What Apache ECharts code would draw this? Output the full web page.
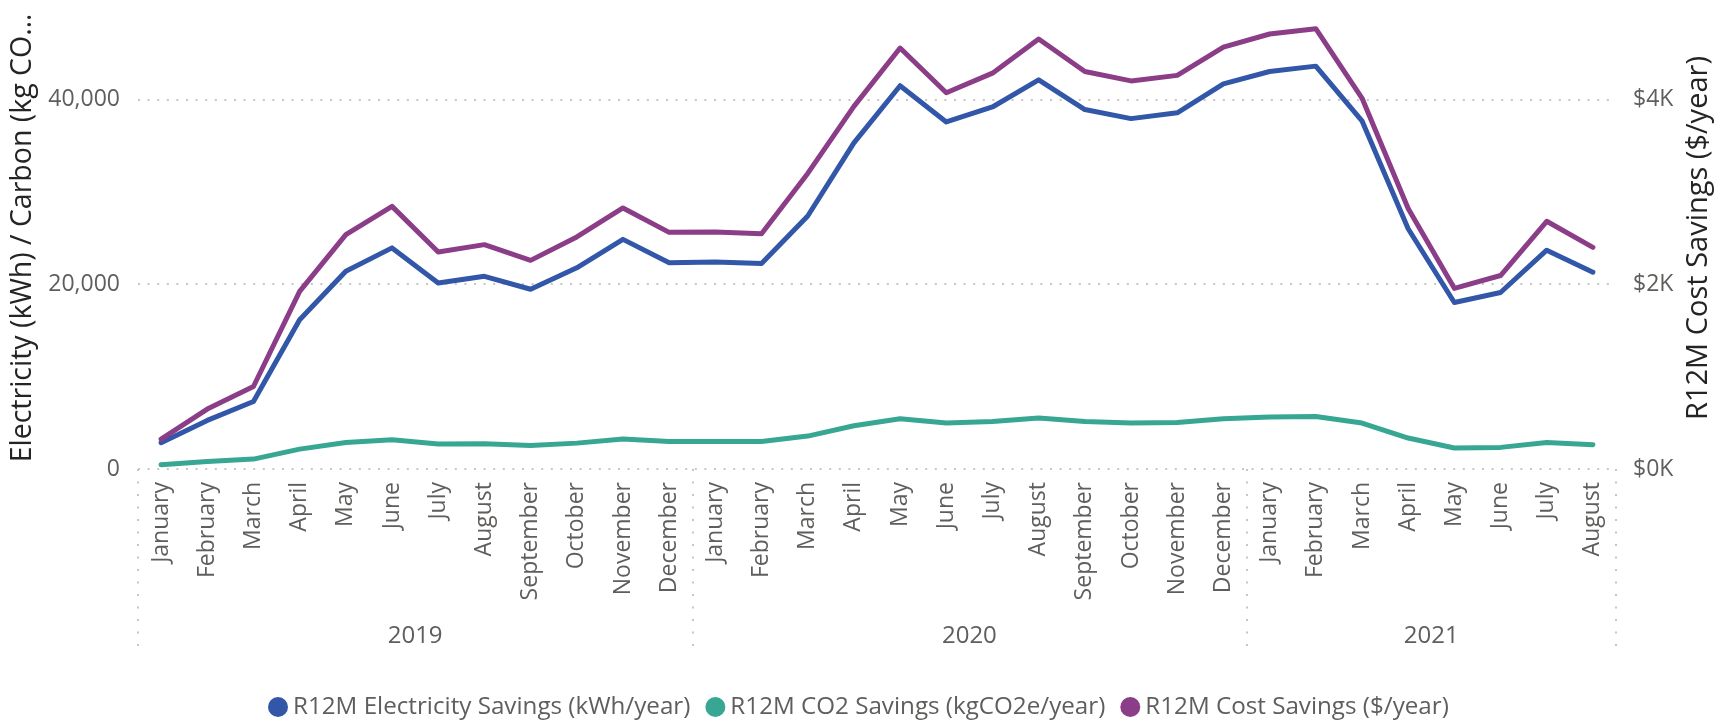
<!DOCTYPE html>
<html>
<head>
    <meta charset="utf-8">
    <title>R12M Savings</title>
    <script src="https://cdn.jsdelivr.net/npm/echarts@6/dist/echarts.min.js"></script>
    <style>
        body { margin: 0; background: #fff; }
    </style>
</head>
<body>
    <div id="main" style="width: 1731px;height:723px;"></div>
    <script type="text/javascript">
        // months on the x axis, grouped by year
        var months = ['January', 'February', 'March', 'April', 'May', 'June', 'July', 'August',
            'September', 'October', 'November', 'December',
            'January', 'February', 'March', 'April', 'May', 'June', 'July', 'August',
            'September', 'October', 'November', 'December',
            'January', 'February', 'March', 'April', 'May', 'June', 'July', 'August'];
        var years = ['2019', '2020', '2021'];
        var monthsInYear = [12, 12, 8];

        // R12M savings
        var electricity = [2840, 5260, 7310, 16160, 21400, 23930, 20130, 20850, 19450, 21770, 24850, 22330,
            22400, 22250, 27380, 35300, 41480, 37560, 39180, 42110, 38900, 37920, 38550, 41680,
            43020, 43600, 37680, 26000, 18020, 19100, 23680, 21300];
        var co2 = [460, 810, 1070, 2150, 2870, 3160, 2700, 2730, 2550, 2800, 3240, 2980,
            2980, 2980, 3560, 4680, 5440, 4970, 5140, 5510, 5140, 4970, 5040, 5440,
            5620, 5690, 4970, 3350, 2280, 2340, 2870, 2630];
        var cost = [324, 649, 893, 1922, 2536, 2842, 2349, 2428, 2258, 2511, 2825, 2561,
            2565, 2547, 3199, 3925, 4556, 4072, 4284, 4654, 4302, 4200, 4260, 4565,
            4708, 4765, 4015, 2820, 1955, 2094, 2681, 2399];

        var leftTicks = [0, 20000, 40000];
        var rightTicks = [0, 2000, 4000];

        // year boundaries / centres in category index units
        var yearEdges = [-0.5];
        var yearCenters = [];
        var acc = 0;
        for (var i = 0; i < monthsInYear.length; i++) {
            yearCenters.push(acc + monthsInYear[i] / 2 - 0.5);
            acc += monthsInYear[i];
            yearEdges.push(acc - 0.5);
        }

        var font = "'Segoe UI', 'Open Sans', sans-serif";
        var grey = '#605E5C';
        var dots = { color: '#C8C6C4', width: 2, type: [2, 7.6] };

        var myChart = echarts.init(document.getElementById('main'));
        var option = {
            textStyle: { fontFamily: font },
            animation: false,
            grid: { left: 138, right: 115, top: 7, bottom: 254, outerBoundsMode: 'none' },
            legend: {
                left: 263,
                top: 690,
                icon: 'circle',
                itemWidth: 20,
                itemHeight: 20,
                itemGap: 15,
                textStyle: { fontSize: 24.2, color: grey, fontFamily: font },
                data: ['R12M Electricity Savings (kWh/year)', 'R12M CO2 Savings (kgCO2e/year)', 'R12M Cost Savings ($/year)']
            },
            xAxis: [{
                type: 'category',
                data: months,
                boundaryGap: true,
                axisLine: { show: false },
                axisTick: { show: false },
                axisLabel: { rotate: 90, margin: 13, fontSize: 23, color: grey, interval: 0 }
            }, {
                type: 'value',
                min: -0.5,
                max: 31.5,
                position: 'bottom',
                offset: 9,
                axisLine: { show: false },
                splitLine: { show: false },
                axisTick: {
                    show: true,
                    inside: false,
                    length: 181,
                    customValues: yearEdges,
                    lineStyle: { color: '#C8C6C4', width: 2, type: [2, 10.5] }
                },
                axisLabel: {
                    customValues: yearCenters,
                    margin: 146,
                    fontSize: 24,
                    color: grey,
                    formatter: function (v) {
                        for (var k = 0; k < yearCenters.length; k++) {
                            if (Math.abs(yearCenters[k] - v) < 0.01) return years[k];
                        }
                        return '';
                    }
                }
            }],
            yAxis: [{
                type: 'value',
                min: 0,
                max: 50000,
                interval: 20000,
                name: 'Electricity (kWh) / Carbon (kg CO…',
                nameLocation: 'middle',
                nameRotate: 90,
                nameGap: 99,
                nameTextStyle: { fontSize: 28.5, color: '#252423', fontFamily: font },
                axisLine: { show: false },
                axisTick: { show: false },
                axisLabel: {
                    margin: 18, fontSize: 23, color: grey, showMaxLabel: false,
                    formatter: function (v) { return leftTicks.indexOf(v) >= 0 ? v.toLocaleString('en-US') : ''; }
                },
                splitLine: { show: true, showMaxLine: false, lineStyle: dots }
            }, {
                type: 'value',
                min: 0,
                max: 5000,
                interval: 2000,
                name: 'R12M Cost Savings ($/year)',
                nameLocation: 'middle',
                nameRotate: 90,
                nameGap: 68,
                nameTextStyle: { fontSize: 29, color: '#252423', fontFamily: font },
                axisLine: { show: false },
                axisTick: { show: false },
                axisLabel: {
                    margin: 17, fontSize: 23, color: grey, showMaxLabel: false,
                    formatter: function (v) { return rightTicks.indexOf(v) >= 0 ? '$' + (v / 1000) + 'K' : ''; }
                },
                splitLine: { show: false }
            }],
            series: [{
                name: 'R12M Electricity Savings (kWh/year)',
                type: 'line',
                yAxisIndex: 0,
                data: electricity,
                showSymbol: false,
                symbol: 'none',
                color: '#3257A8',
                lineStyle: { width: 5, cap: 'round', join: 'round' }
            }, {
                name: 'R12M CO2 Savings (kgCO2e/year)',
                type: 'line',
                yAxisIndex: 0,
                data: co2,
                showSymbol: false,
                symbol: 'none',
                color: '#37A794',
                lineStyle: { width: 5, cap: 'round', join: 'round' }
            }, {
                name: 'R12M Cost Savings ($/year)',
                type: 'line',
                yAxisIndex: 1,
                data: cost,
                showSymbol: false,
                symbol: 'none',
                color: '#8B3D88',
                lineStyle: { width: 5, cap: 'round', join: 'round' }
            }]
        };
        myChart.setOption(option);
    </script>
</body>
</html>
